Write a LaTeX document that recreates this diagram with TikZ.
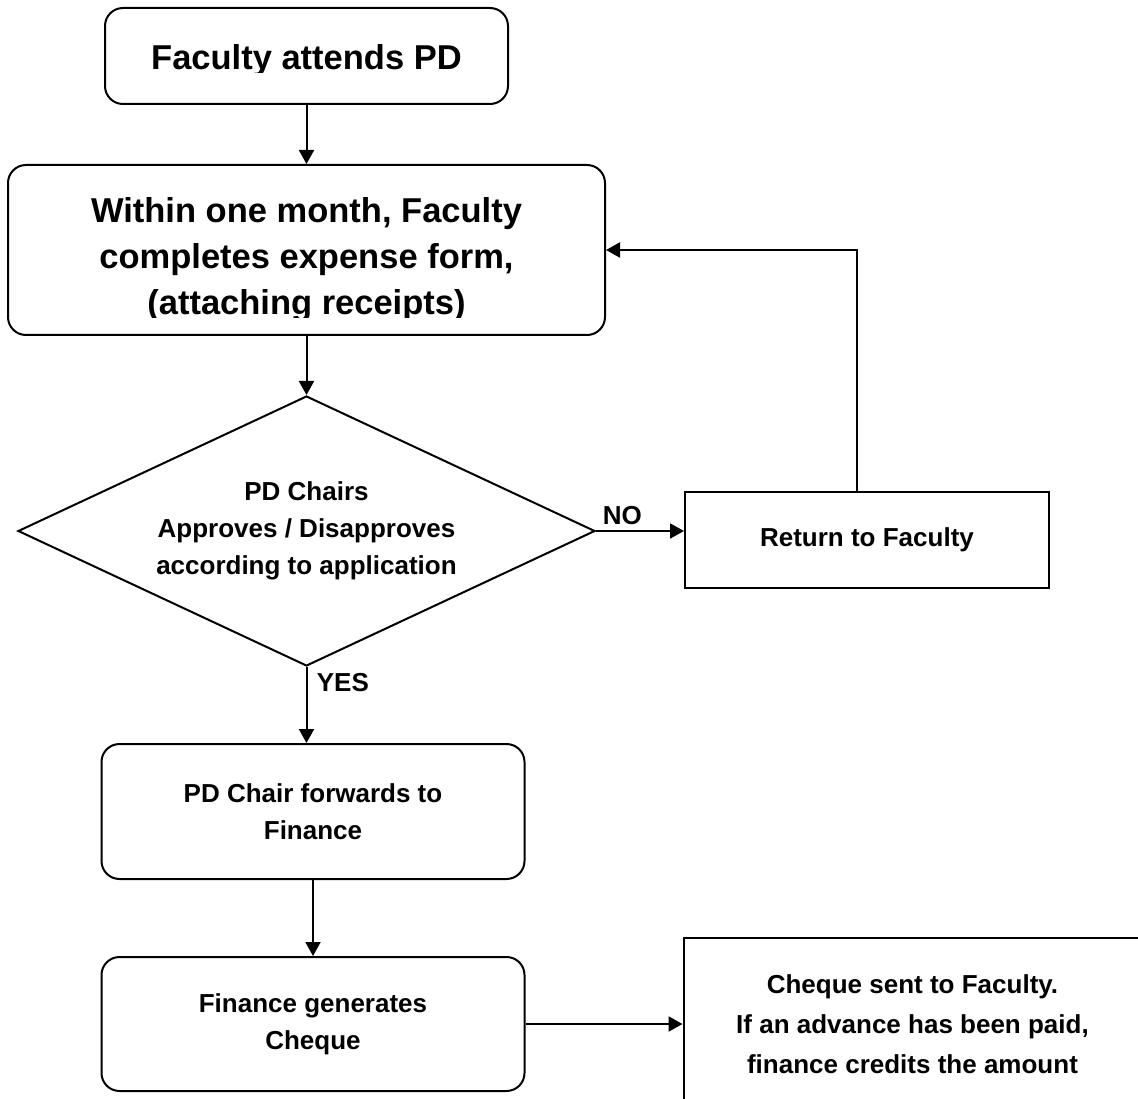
\documentclass[tikz,border=0pt]{standalone}
\usepackage{fontspec}
\setmainfont{Liberation Sans}
\usetikzlibrary{shapes.geometric,positioning,arrows.meta}

\newcommand{\flowbig}{\fontsize{34.5}{46}\selectfont\bfseries}
\newcommand{\flowsmall}{\fontsize{26}{37}\selectfont\bfseries}
\newcommand{\flowwide}{\fontsize{26}{40}\selectfont\bfseries}

\begin{document}
\begin{tikzpicture}[x=1pt,y=1pt,line width=2pt,
    roundbox/.style={draw,rounded corners=18pt,inner sep=0pt},
    squarebox/.style={draw,inner sep=0pt},
    flowarrow/.style={-{Triangle[length=14pt,width=15pt]}}]
  \useasboundingbox (0,0) rectangle (1138,-1099);
  \clip (0,0) rectangle (1138,-1099);
  % main column
  \node[roundbox,minimum width=403pt,minimum height=96pt] (attend) at (306.5,-56) {};
  \node[roundbox,minimum width=597pt,minimum height=170pt,below=59pt of attend] (form) {};
  \node[draw,diamond,aspect=2.137,inner sep=0pt,minimum width=577pt,minimum height=270pt,
        font=\flowsmall,align=center,below=59pt of form] (check)
        {PD Chairs\\Approves / Disapproves\\according to application};
  \node[roundbox,minimum width=423pt,minimum height=135pt,font=\flowsmall,align=center,
        below=76pt of check,xshift=6.5pt] (forward) {PD Chair forwards to\\Finance};
  \node[roundbox,minimum width=423pt,minimum height=134pt,font=\flowsmall,align=center,
        below=76pt of forward] (generate) {Finance generates\\Cheque};
  % right side
  \node[squarebox,minimum width=364pt,minimum height=96pt,font=\flowsmall,
        right=88pt of check,yshift=-9pt] (giveback) {Return to Faculty};
  \node[squarebox,minimum width=458pt,minimum height=172pt,font=\flowwide,align=center,
        right=157pt of generate] (sent)
        {Cheque sent to Faculty.\\If an advance has been paid,\\finance credits the amount};
  % texts cut off by their frames
  \begin{scope}
    \clip (attend.north west) rectangle ([yshift=32pt]attend.south east);
    \node[font=\flowbig,anchor=base,yshift=-14pt] (attendtext) at (attend.center) {Faculty attends PD};
  \end{scope}
  \begin{scope}
    \clip (form.north west) rectangle ([yshift=18pt]form.south east);
    \node[font=\flowbig,align=center,yshift=-10pt] (formtext) at (form.center)
          {Within one month, Faculty\\completes expense form,\\(attaching receipts)};
  \end{scope}
  % arrows
  \draw[flowarrow] (attend) -- (form);
  \draw[flowarrow] (form) -- (check);
  \draw[flowarrow] (check.south) -- node[pos=0.21,right=6pt,font=\flowsmall] (yes) {YES}
        (check.south |- forward.north);
  \draw[flowarrow] (forward) -- (generate);
  \draw[flowarrow] (check.east) -- node[pos=0.3,above=2pt,font=\flowsmall] (no) {NO}
        (check.east -| giveback.west);
  \coordinate[xshift=-10pt] (loop) at (giveback.north);
  \draw[flowarrow] (loop) |- (form.east);
  \draw[flowarrow] (generate) -- (sent);
\end{tikzpicture}
\end{document}
